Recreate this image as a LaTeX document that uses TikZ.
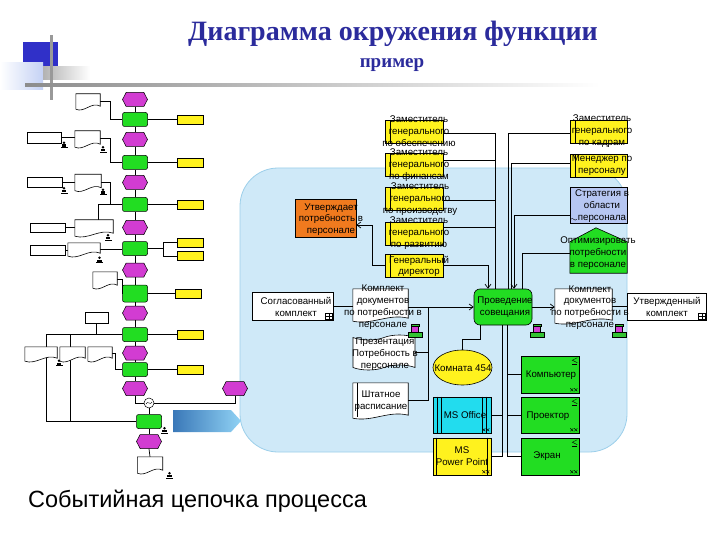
\documentclass[tikz,border=0pt]{standalone}
\usepackage{fontspec}
\setmainfont{Liberation Sans}
\newfontfamily\titlefont{Liberation Serif}
\usetikzlibrary{shapes.symbols,shapes.geometric,calc,arrows.meta}
\definecolor{ttl}{HTML}{2B2B9C}
\definecolor{regfill}{HTML}{CFE9F8}
\definecolor{regline}{HTML}{9CCFEA}
\definecolor{yel}{HTML}{FFF21E}
\definecolor{orng}{HTML}{F07A1E}
\definecolor{grn}{HTML}{22DD22}
\definecolor{mag}{HTML}{D23CD2}
\definecolor{cyn}{HTML}{22DCEE}
\definecolor{lav}{HTML}{B6C6F2}
\definecolor{bsq}{HTML}{3030C8}
\definecolor{arrl}{HTML}{3A78B8}
\definecolor{arrr}{HTML}{90D2F4}
\newcommand\docshape[2][white]{%
  \filldraw[fill=#1, line width=0.6pt] (#2.north west) -- (#2.north east) -- ($(#2.south east)+(0,-2)$) .. controls ($(#2.south west)!0.65!(#2.south east)+(0,-7)$) and ($(#2.south west)!0.35!(#2.south east)+(0,5)$) .. ($(#2.south west)+(0,1)$) -- cycle;}
\newcommand\orgico[2]{%
  \filldraw[fill=green!70!black!80, line width=0.3pt] (#1-4,#2-7) rectangle (#1+4,#2-4.5);
  \filldraw[fill=mag, line width=0.3pt] (#1-3.5,#2-4.5) rectangle (#1+3.5,#2+1);
  \filldraw[fill=green!70!black!80, line width=0.3pt] (#1-7,#2+1) rectangle (#1+7,#2+6);}
\newcommand\persico[2]{%
  \fill (#1,#2-2.2) circle (1.4pt);
  \fill (#1-2.3,#2-0.5) rectangle (#1+2.3,#2+1.8);
  \fill (#1-3.5,#2+2.2) rectangle (#1+3.5,#2+3.2);}
\newcommand\tabico[1]{%
  \draw[line width=0.4pt] ($(#1.south east)+(-8,-1)$) rectangle ($(#1.south east)+(-1,-7)$);
  \draw[line width=0.4pt] ($(#1.south east)+(-4.5,-1)$) -- ($(#1.south east)+(-4.5,-7)$);
  \draw[line width=0.4pt] ($(#1.south east)+(-8,-4)$) -- ($(#1.south east)+(-1,-4)$);}
\newcommand\exico[1]{%
  \draw[line width=0.4pt] ($(#1.south east)+(-9,-5)$) -- ($(#1.south east)+(-6,-2)$) ($(#1.south east)+(-9,-2)$) -- ($(#1.south east)+(-6,-5)$);
  \draw[line width=0.4pt] ($(#1.south east)+(-5,-5)$) -- ($(#1.south east)+(-2,-2)$) ($(#1.south east)+(-5,-2)$) -- ($(#1.south east)+(-2,-5)$);}
\newcommand\ltico[1]{%
  \draw[line width=0.4pt] ($(#1.north east)+(-2,2)$) -- ($(#1.north east)+(-7,4.5)$) -- ($(#1.north east)+(-2,7)$);
  \draw[line width=0.4pt] ($(#1.north east)+(-7,8.5)$) -- ($(#1.north east)+(-2,8.5)$);}
\begin{document}
\begin{tikzpicture}[x=1pt,y=-1pt,
  con/.style={draw, line width=0.7pt},
  arr/.style={-{Straight Barb[length=4pt,width=6pt]}},
  evt/.style={signal, signal to=east and west, signal pointer angle=125, draw, fill=mag, line width=0.5pt, minimum width=25pt, minimum height=14pt, inner sep=0pt},
  fnc/.style={draw, fill=grn, rounded corners=2pt, line width=0.5pt, minimum width=25pt, minimum height=14pt, inner sep=0pt},
  ysm/.style={draw, fill=yel, line width=0.5pt, minimum width=26pt, minimum height=9pt, inner sep=0pt},
  wbox/.style={draw, fill=white, line width=0.5pt, inner sep=0pt},
  docn/.style={draw=none, inner sep=0pt},
  orgu/.style={draw, fill=yel, line width=0.6pt, minimum width=58pt, minimum height=23pt, inner sep=0pt,
    path picture={\draw ([xshift=5pt]path picture bounding box.north west) -- ([xshift=5pt]path picture bounding box.south west);}},
  bigbox/.style={draw, line width=0.6pt, minimum width=58pt, minimum height=36pt, inner sep=0pt},
  lbl/.style={font=\fontsize{9.7}{11.8}\selectfont, align=center, inner sep=0pt}]
\useasboundingbox (0,0) rectangle (720,540);
\fill[white] (0,0) rectangle (720,540);
% decoration
\fill[bsq] (23,42) rectangle (58,67);
\fill[left color=white, right color=lav!80] (0,63) rectangle (43,90);
\fill[left color=gray!60, right color=white] (43,67) rectangle (90,80);
\fill[gray!80] (50,35) rectangle (53,100);
\fill[left color=gray!90, middle color=gray!55, right color=white] (25,83.5) rectangle (600,86.5);
% titles
\node[anchor=base, font=\titlefont\bfseries\fontsize{28}{34}\selectfont, text=ttl, inner sep=0pt] (T1) at (393,41) {Диаграмма окружения функции};
\node[anchor=base, font=\titlefont\bfseries\fontsize{19}{22}\selectfont, text=ttl, inner sep=0pt] (T2) at (392,68) {пример};
\node[anchor=base west, font=\fontsize{23.5}{28}\selectfont, inner sep=0pt] (T3) at (28,507) {Событийная цепочка процесса};
% region
\filldraw[fill=regfill, draw=regline, line width=0.8pt, rounded corners=38pt] (240,168) rectangle (627,452);
% blue arrow
\shade[left color=arrl, right color=arrr] (173,410) -- (231,410) -- (241,421) -- (231,432) -- (173,432) -- cycle;

% ---------- right side ----------
\node[orgu] (Z1) at (414,131.5) {};
\node[orgu] (Z2) at (414,165) {};
\node[orgu] (Z3) at (414,199) {};
\node[orgu] (Z4) at (414,233.5) {};
\node[orgu] (Z5) at (414,265.5) {};
\node[orgu, minimum width=57pt] (K1) at (598.5,131.5) {};
\node[orgu, minimum width=57pt] (K2) at (598.5,165.5) {};
\node[draw, fill=lav, line width=0.6pt, minimum width=57pt, minimum height=36pt] (S) at (598.5,205) {};
\node[draw=none, minimum width=57pt, minimum height=31pt, inner sep=0pt] (O) at (598.5,257.5) {};
\filldraw[fill=grn, line width=0.6pt] (O.south west) -- (O.north west) -- ($(O.north)+(-2.5,-14)$) -- (O.north east) -- (O.south east) -- cycle;
\node[draw, fill=orng, line width=0.6pt, minimum width=61pt, minimum height=38pt] (U) at (325.5,218) {};
\node[wbox, line width=0.6pt, minimum width=81pt, minimum height=28pt] (SK) at (292.5,306) {};
\node[docn, minimum width=55pt, minimum height=31pt] (KD1) at (380.5,304.5) {};
\docshape{KD1}
\node[draw, fill=grn, rounded corners=6pt, line width=0.6pt, minimum width=58pt, minimum height=36pt] (PS) at (503,307) {};
\node[docn, minimum width=57pt, minimum height=33pt] (KD2) at (583.5,305.5) {};
\docshape{KD2}
\node[wbox, line width=0.6pt, minimum width=79pt, minimum height=27pt] (UK) at (666.5,306.5) {};
\node[tape, draw, fill=white, line width=0.6pt, minimum width=62pt, minimum height=35pt, inner sep=0pt] (PR) at (384,352.5) {};
\node[docn, minimum width=55pt, minimum height=34pt] (SH) at (380.5,400) {};
\docshape{SH}
\draw[line width=0.6pt] ($(SH.north west)+(4,0)$) -- ($(SH.south west)+(4,0)$);
\node[ellipse, draw, fill=yel, line width=0.6pt, minimum width=59pt, minimum height=35pt, inner sep=0pt] (KM) at (462.5,367.5) {};
\node[bigbox, fill=grn, minimum height=37pt] (KP) at (550,374.5) {};
\node[bigbox, fill=grn] (PJ) at (550,415) {};
\node[bigbox, fill=grn, minimum height=37pt] (EK) at (550,456.5) {};
\node[bigbox, fill=cyn] (MO) at (462,415) {};
\draw[line width=0.5pt] ($(MO.north west)+(5,0)$) -- ($(MO.south west)+(5,0)$) ($(MO.north west)+(9,0)$) -- ($(MO.south west)+(9,0)$) ($(MO.north east)+(-9,0)$) -- ($(MO.south east)+(-9,0)$) ($(MO.north east)+(-5,0)$) -- ($(MO.south east)+(-5,0)$);
\node[bigbox, fill=yel, minimum height=37pt] (MP) at (462,456.5) {};
\draw[line width=0.5pt] ($(MP.north west)+(4,0)$) -- ($(MP.south west)+(4,0)$) ($(MP.north east)+(-4,0)$) -- ($(MP.south east)+(-4,0)$);

% icons
\tabico{SK}
\tabico{UK}
\exico{KP}\exico{PJ}\exico{EK}\exico{MO}\exico{MP}
\ltico{KP}\ltico{PJ}\ltico{EK}
\draw[line width=0.4pt] ($(S.south west)+(1,-4)$) .. controls ($(S.south west)+(3,-7)$) and ($(S.south west)+(5,-1)$) .. ($(S.south west)+(7,-4)$);
\orgico{415}{331}
\orgico{537}{331}
\orgico{619}{331}

% connectors right
\draw[con] ($(Z1.east)+(0,1.5)$) -| ($(PS.north)+(-8,0)$);
\draw[con] ($(Z2.east)+(0,-5)$) -| ($(PS.north)+(-8,0)$);
\draw[con] ($(Z3.east)+(0,1)$) -| ($(PS.north)+(-8,0)$);
\draw[con] ($(Z4.east)+(0,-6.5)$) -| ($(PS.north)+(-8,0)$);
\draw[con,arr] (Z5.east) -| ($(PS.north)+(-15,0)$);
\draw[con] ($(K1.west)+(0,1.5)$) -| ($(PS.north)+(5,0)$);
\draw[con] ($(K2.west)+(0,-2)$) -| ($(PS.north)+(8,0)$);
\draw[con,arr] ($(S.west)+(0,10)$) -| ($(PS.north)+(11,0)$);
\draw[con] ($(O.west)+(0,-4)$) -| ($(PS.north)+(19,0)$);
\draw[con,arr] (Z5.west) -- ++(-12,0) |- ($(U.east)+(0,7)$);
\draw[con] (SK.east) -- (SK.east -| KD1.west);
\draw[con,arr] (KD1.east |- PS.west) -- (PS.west);
\coordinate (J1) at (428,307);
\draw[con] (PR.east) -| (J1);
\draw[con] (SH.east) -| (J1);
\draw[con,arr] (PS.east) -- (PS.east -| KD2.west);
\draw[con] (KD2.east |- UK.west) -- (UK.west);
\draw[con] (KM.north) -- ++(0,-10) -| ($(PS.south)+(-23,0)$);
\coordinate (J2) at ($(PS.south)+(-1,0)$);
\coordinate (J3) at ($(PS.south)+(4,0)$);
\draw[con] (J2) |- (MP.east);
\draw[con] (MO.east) -| (J2);
\draw[con] (J3) |- (EK.west);
\draw[con] (KP.west) -| (J3);
\draw[con] (PJ.west) -| (J3);

% right labels
\node[lbl] (Z1t) at (419,131) {Заместитель\\генерального\\по обеспечению};
\node[lbl] (Z2t) at (419,165) {Заместитель\\генерального\\по финансам};
\node[lbl] (Z3t) at (420,199) {Заместитель\\генерального\\по производству};
\node[lbl] (Z4t) at (419,233) {Заместитель\\генерального\\по развитию};
\node[lbl] (Z5t) at (419,266.5) {Генеральный\\директор};
\node[lbl] (K1t) at (602,131) {Заместитель\\генерального\\по кадрам};
\node[lbl] (K2t) at (602,165.5) {Менеджер по\\персоналу};
\node[lbl] (St) at (602,206) {Стратегия в\\области\\персонала};
\node[lbl] (Ot) at (598,253) {Оптимизировать\\потребности\\в персонале};
\node[lbl] (Ut) at (331,219.5) {Утверждает\\потребность в\\персонале};
\node[lbl] (SKt) at (296,307) {Согласованный\\комплект};
\node[lbl] (KD1t) at (383,307) {Комплект\\документов\\по потребности в\\персонале};
\node[lbl] (PSt) at (505,307.5) {Проведение\\совещания};
\node[lbl] (KD2t) at (590,307.5) {Комплект\\документов\\по потребности в\\персонале};
\node[lbl] (UKt) at (667,307) {Утвержденный\\комплект};
\node[lbl] (PRt) at (385,354) {Презентация\\Потребность в\\персонале};
\node[lbl] (SHt) at (381,401.5) {Штатное\\расписание};
\node[lbl] (KMt) at (463,368) {Комната 454};
\node[lbl] (KPt) at (551,375) {Компьютер};
\node[lbl] (PJt) at (548,416) {Проектор};
\node[lbl] (EKt) at (547,456.5) {Экран};
\node[lbl] (MOt) at (465,415) {MS Office};
\node[lbl] (MPt) at (462,456) {MS\\Power Point};

% ---------- left chain ----------
\node[evt] (E1) at (135,99.5) {};
\node[fnc] (F1) at (135,119.5) {};
\node[evt] (E2) at (135,139.5) {};
\node[fnc] (F2) at (135,162.5) {};
\node[evt] (E3) at (135,182.5) {};
\node[fnc] (F3) at (135,204.5) {};
\node[evt] (E4) at (135,227.5) {};
\node[fnc] (F4) at (135,248.5) {};
\node[evt] (E5) at (135,270) {};
\node[fnc, minimum height=17pt] (F5) at (135,293.5) {};
\node[evt] (E6) at (135,313) {};
\node[fnc] (F6) at (135,334.5) {};
\node[evt] (E7) at (135,353) {};
\node[fnc] (F7) at (135,369.5) {};
\node[evt] (E8) at (135,388.5) {};
\node[evt] (E9) at (235,388.5) {};
\node[circle, draw, fill=white, line width=0.5pt, minimum size=10pt, inner sep=0pt] (X) at (149,403) {};
\draw[line width=0.4pt] ($(X.center)+(-3,1)$) .. controls ($(X.center)+(-1.5,-3)$) and ($(X.center)+(1.5,3)$) .. ($(X.center)+(3,-1)$);
\node[fnc] (F8) at (149,421.5) {};
\node[evt] (E10) at (149,441.5) {};
\node[docn, minimum width=25pt, minimum height=15pt] (D10) at (150,464.5) {};

\node[ysm] (Y1) at (190,119.5) {};
\node[ysm] (Y2) at (190,162.5) {};
\node[ysm] (Y3) at (190,204.5) {};
\node[ysm] (Y4a) at (190,242.5) {};
\node[ysm] (Y4b) at (190,256) {};
\node[ysm] (Y5) at (188,293.5) {};
\node[ysm] (Y6) at (190,334.5) {};
\node[ysm] (Y7) at (190,369.5) {};

\node[docn, minimum width=24pt, minimum height=14pt] (D1) at (88,101) {};
\node[docn, minimum width=25pt, minimum height=15pt] (D2) at (87.5,138.5) {};
\node[docn, minimum width=26pt, minimum height=15pt] (D3) at (88,182) {};
\node[docn, minimum width=38pt, minimum height=15pt] (D4) at (94,227.5) {};
\node[docn, minimum width=32pt, minimum height=12pt] (D5) at (84,249) {};
\node[docn, minimum width=24pt, minimum height=15pt] (D6) at (105,279.5) {};
\node[docn, minimum width=32pt, minimum height=13pt] (B6) at (41,353.5) {};
\node[docn, minimum width=25pt, minimum height=13pt] (B7) at (72.5,353.5) {};
\node[docn, minimum width=24pt, minimum height=13pt] (B8) at (100,353.5) {};
\node[wbox, minimum width=34pt, minimum height=11pt] (B1) at (44,137.5) {};
\node[wbox, minimum width=35pt, minimum height=10pt] (B2) at (45,182) {};
\node[wbox, minimum width=35pt, minimum height=9pt] (B3) at (47.5,227.5) {};
\node[wbox, minimum width=35pt, minimum height=10pt] (B4) at (47.5,250) {};
\node[wbox, minimum width=23pt, minimum height=11pt] (B5) at (96.5,317.5) {};

% left connectors
\draw[con] (E1) -- (F1) -- (E2) -- (F2) -- (E3) -- (F3) -- (E4) -- (F4) -- (E5) -- (F5) -- (E6) -- (F6) -- (E7) -- (F7) -- (E8);
\draw[con] (E8.south) |- (X.west);
\draw[con] (X.east) -| (E9.south);
\draw[con] (X.south) -- (F8.north);
\draw[con] (F8) -- (E10);
\draw[con] (E10.south) -- (D10.north);
\foreach \f/\y in {F1/Y1,F2/Y2,F3/Y3,F5/Y5,F6/Y6,F7/Y7}{\draw[con] (\f.east) -- (\f.east -| \y.west);}
\coordinate (J4) at (163,248.5);
\draw[con] (F4.east) -- (J4);
\draw[con] (Y4a.west) -| (J4);
\draw[con] (Y4b.west) -| (J4);
\coordinate (V1) at (110,101);
\draw[con] (D1.east) -- (V1) |- (F1.west);
\draw[con] (B1.east) -- (B1.east -| D2.west);
\draw[con] (D2.east) -- (D2.east -| V1) |- (F2.west);
\draw[con] (B2.east) -- (B2.east -| D3.west);
\draw[con] (D3.east) -- (D3.east -| V1) |- (F3.west);
\draw[con] (B3.east) -- (B3.east -| D4.west);
\draw[con] (F3.west) -| ($(D4.north)+(4,0)$);
\draw[con] (B4.east) -- (B4.east -| D5.west);
\draw[con] (D5.east) -- (D5.east -| F4.west);
\draw[con] (D6.east) -- ++(5,0) |- (F5.west);
\draw[con] (B5.south) |- (F6.west);
\coordinate (H1) at (46,334.5);
\coordinate (H2) at (70,334.5);
\coordinate (H3) at (46,421.5);
\coordinate (H4) at (70,421.5);
\draw[con] (F6.west) -- (H1) -- (H3) -- (F8.west);
\draw[con] (H2) -- (H4);
\draw[con] (B8.east) -- ++(3,0) |- (F7.west);
\docshape{D1}\docshape{D2}\docshape{D3}\docshape{D4}\docshape{D5}\docshape{D6}
\docshape{B6}\docshape{B7}\docshape{B8}\docshape{D10}
\persico{64}{145}
\persico{103}{149.5}
\persico{64}{190.5}
\persico{103}{192}
\persico{108}{237.5}
\persico{99.5}{260}
\persico{59}{363}
\persico{164.5}{430.5}
\persico{169.5}{475.5}
\end{tikzpicture}
\end{document}
